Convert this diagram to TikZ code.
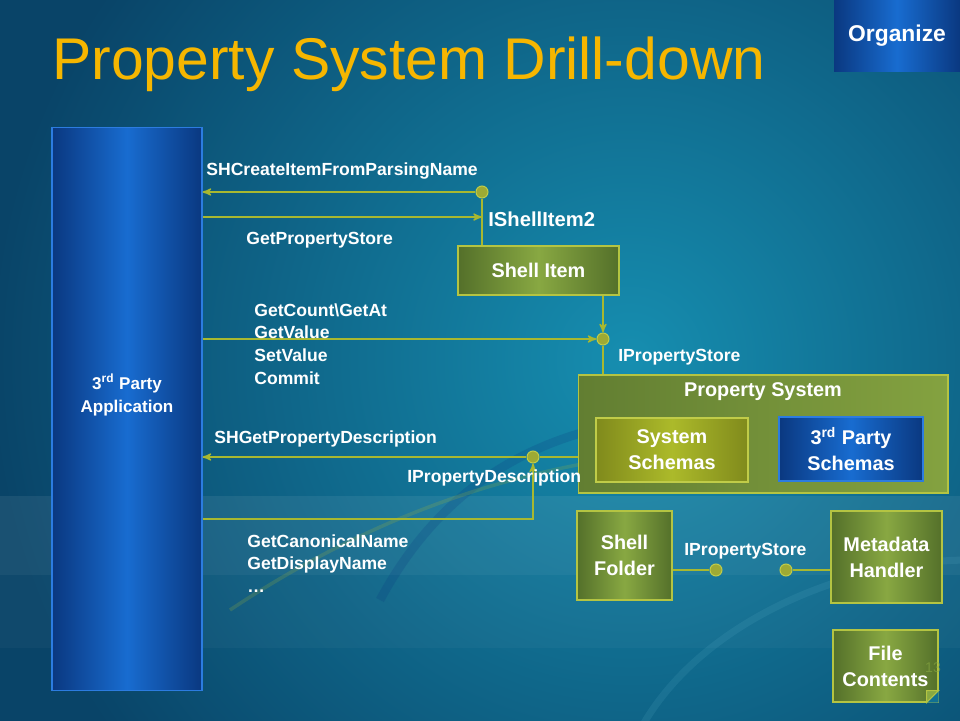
\documentclass[tikz,border=0pt]{standalone}
\usepackage{fontspec}
\setmainfont{Liberation Sans}
\usetikzlibrary{arrows}

\definecolor{bgdark}{RGB}{9,68,104}
\definecolor{bglight}{RGB}{22,142,176}
\definecolor{wire}{RGB}{168,184,48}
\definecolor{knob}{RGB}{158,170,52}
\definecolor{knobedge}{RGB}{192,204,72}
\definecolor{boxedge}{RGB}{180,196,66}
\definecolor{olivedk}{RGB}{84,112,42}
\definecolor{olivelt}{RGB}{136,168,66}
\definecolor{propdk}{RGB}{98,126,50}
\definecolor{proplt}{RGB}{132,162,64}
\definecolor{mossdk}{RGB}{128,138,28}
\definecolor{mosslt}{RGB}{172,186,42}
\definecolor{navy}{RGB}{10,56,128}
\definecolor{bright}{RGB}{24,108,208}
\definecolor{blueedge}{RGB}{44,124,224}
\definecolor{titlecol}{RGB}{246,182,0}

\newcommand\lblfont{\fontsize{10}{13}\selectfont\bfseries}
\newcommand\boxfont{\fontsize{11.3}{14.7}\selectfont\bfseries}

\begin{document}
\begin{tikzpicture}[x=0.02cm,y=-0.02cm,>=stealth',
    wire/.style={draw=wire,line width=0.8pt},
    lolly/.style={circle,fill=knob,draw=knobedge,line width=0.6pt,minimum size=0.24cm,inner sep=0pt},
    lbl/.style={text=white,font=\lblfont,inner sep=0pt,align=left},
    gbox/.style={draw=boxedge,line width=0.6pt,left color=olivedk,right color=olivedk,middle color=olivelt,
        text=white,font=\boxfont,align=center,inner sep=0pt},
    bbox/.style={gbox,draw=blueedge,left color=navy,right color=navy,middle color=bright}]

    \useasboundingbox (0,0) rectangle (960,720);
    \fill[bgdark] (-10,-10) rectangle (970,730);
    \begin{scope}
        \clip (-10,-10) rectangle (970,730);
        \shade[inner color=bglight,outer color=bgdark] (630,360) circle (640);
        \fill[white,opacity=.07] (-10,496) rectangle (970,575);
        \fill[white,opacity=.03] (-10,575) rectangle (970,648);
        \draw[navy,opacity=.2,line width=5pt] (380,600) .. controls (450,470) and (560,420) .. (700,415);
        \draw[wire,opacity=.2,line width=2pt] (230,610) .. controls (380,510) and (520,470) .. (640,455);
        \draw[bglight!70!white,opacity=.15,line width=4pt] (640,730) .. controls (700,620) and (850,560) .. (970,560);
    \end{scope}

    \node[anchor=base west,text=titlecol,font=\fontsize{33.5}{38}\selectfont,inner sep=0pt] (Title) at (52,79) {Property System Drill-down};
    \node[bbox,draw=none,font=\fontsize{13}{15}\selectfont\bfseries,minimum width=2.52cm,minimum height=1.44cm] (Org) at (897,36) {Organize};

    \node[bbox,minimum width=3cm,minimum height=11.28cm] (App) at (127,409) {};
    \node[text=white,font=\fontsize{9.7}{13}\selectfont\bfseries,align=center] (AppLbl) at (127,395) {3\textsuperscript{rd} Party\\Application};

    \node[gbox,minimum width=3.22cm,minimum height=0.98cm] (Item) at (538.5,270.5) {Shell Item};
    \node[gbox,left color=propdk,right color=proplt,middle color=propdk!50!proplt,minimum width=7.4cm,minimum height=2.36cm] (PropSys) at (763,434) {};
    \node[text=white,font=\boxfont] (PropTitle) at (763,392) {Property System};
    \node[gbox,draw=knobedge,left color=mossdk,right color=mossdk,middle color=mosslt,minimum width=3.04cm,minimum height=1.28cm] (SysSch) at (672,450) {System\\Schemas};
    \node[bbox,minimum width=2.88cm,minimum height=1.28cm] (PartySch) at (851,449) {3\textsuperscript{rd} Party\\Schemas};
    \node[gbox,minimum width=1.9cm,minimum height=1.78cm] (Folder) at (624.5,555.5) {Shell\\Folder};
    \node[gbox,minimum width=2.22cm,minimum height=1.84cm] (Meta) at (886.5,557) {Metadata\\Handler};
    \node[gbox,minimum width=2.1cm,minimum height=1.44cm] (File) at (885.5,666) {File\\Contents};
    \fill[bglight!60!bgdark] (File.south east) -- ([xshift=-0.24cm]File.south east) -- ([yshift=0.24cm]File.south east) -- cycle;
    \filldraw[fill=olivelt,draw=boxedge,line width=0.6pt] ([xshift=-0.24cm]File.south east) -- ([xshift=-0.24cm,yshift=0.24cm]File.south east) -- ([yshift=0.24cm]File.south east) -- cycle;
    \node[text=olivelt,opacity=.6,font=\fontsize{8}{9}\selectfont,inner sep=0pt] (SlideNo) at (933,668) {13};

    \node[lolly] (L1) at (482,192) {};
    \node[lolly] (L2) at (603,339) {};
    \node[lolly] (L3) at (533,457) {};
    \node[lolly] (L4) at (716,570) {};
    \node[lolly] (L5) at (786,570) {};
    \coordinate (GpsEnd) at (482,217);
    \coordinate (DescStart) at (533,519);

    \draw[wire,->] (L1) -- (L1 -| App.east);
    \draw[wire,->] (App.east |- GpsEnd) -- (GpsEnd);
    \draw[wire] (L1) -- (L1 |- Item.north);
    \draw[wire,->] (L2 |- Item.south) -- (L2);
    \draw[wire,->] (App.east |- L2) -- (L2);
    \draw[wire] (L2) -- (L2 |- PropSys.north);
    \draw[wire] (PropSys.west |- L3) -- (L3);
    \draw[wire,->] (L3) -- (L3 -| App.east);
    \draw[wire,->] (App.east |- DescStart) -| (L3);
    \draw[wire] (Folder.east |- L4) -- (L4);
    \draw[wire] (L5) -- (L5 -| Meta.west);

    \node[lbl,anchor=base west] (CreateLbl) at (206,175) {SHCreateItemFromParsingName};
    \node[lbl,anchor=base west] (GpsLbl) at (246,244) {GetPropertyStore};
    \node[lbl,anchor=base west,font=\fontsize{11.5}{14}\selectfont\bfseries] (Item2Lbl) at (488,226) {IShellItem2};
    \node[lbl,anchor=north west] (StoreOps) at (254,303) {GetCount\textbackslash GetAt\\GetValue\\SetValue\\Commit};
    \node[lbl,anchor=base west] (StoreLbl) at (618,361) {IPropertyStore};
    \node[lbl,anchor=base west] (DescFnLbl) at (214,443) {SHGetPropertyDescription};
    \node[lbl,anchor=base west] (DescLbl) at (407,482) {IPropertyDescription};
    \node[lbl,anchor=north west] (NameOps) at (247,534) {GetCanonicalName\\GetDisplayName\\…};
    \node[lbl,anchor=base west] (Store2Lbl) at (684,555) {IPropertyStore};
\end{tikzpicture}
\end{document}
